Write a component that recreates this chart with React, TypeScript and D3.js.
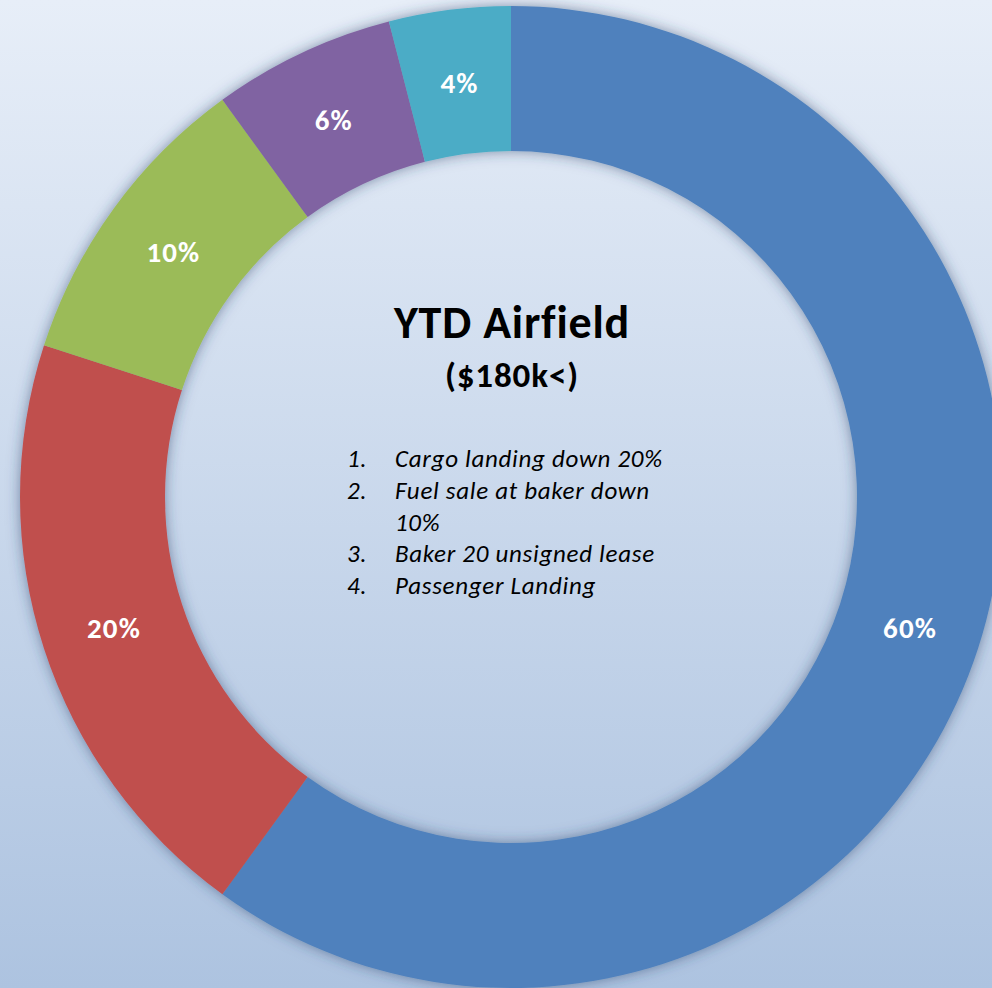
import React from "react";
import * as d3 from "d3";

const categories = ["Cargo Landing", "Passenger Landing", "Fuel Sales", "Leases", "Other"];
const values = [60, 20, 10, 6, 4];
const colors = ["#4F81BD", "#C0504D", "#9BBB59", "#8064A2", "#4BACC6"];
const titleLines = ["YTD Airfield", "($180k<)"];
const notes = [
  { num: "1.", lines: ["Cargo landing down 20%"] },
  { num: "2.", lines: ["Fuel sale at baker down", "10%"] },
  { num: "3.", lines: ["Baker 20 unsigned lease"] },
  { num: "4.", lines: ["Passenger Landing"] },
];

const W = 992;
const H = 988;
const CX = 511;
const CY = 497;
const R_OUT = 491;
const R_IN = 346;
const FONT = "Carlito, Calibri, Lato, 'Open Sans', sans-serif";

export default function App() {
  const pie = d3.pie<number>().sort(null).value((d) => d)(values);
  const arc = d3.arc<d3.PieArcDatum<number>>().innerRadius(R_IN).outerRadius(R_OUT);
  const total = d3.sum(values);

  let lineIdx = 0;
  const listRows: { num?: string; text: string; i: number }[] = [];
  notes.forEach((n) => {
    n.lines.forEach((t, j) => {
      listRows.push({ num: j === 0 ? n.num : undefined, text: t, i: lineIdx++ });
    });
  });

  return (
    <svg
      width={W}
      height={H}
      style={{ position: "absolute", left: 0, top: 0, display: "block" }}
    >
      <defs>
        <linearGradient id="bg" x1="0" y1="0" x2="0" y2="1">
          <stop offset="0" stopColor="#e7eef8" />
          <stop offset="1" stopColor="#adc3e0" />
        </linearGradient>
        <filter id="shadow" x="-10%" y="-10%" width="120%" height="120%">
          <feDropShadow dx="0" dy="0" stdDeviation="7" floodColor="#2b3f66" floodOpacity="0.55" />
        </filter>
      </defs>
      <rect x={0} y={0} width={W} height={H} fill="url(#bg)" />
      <g transform={`translate(${CX},${CY})`}>
        <g filter="url(#shadow)">
          {pie.map((d, i) => (
            <path key={categories[i]} d={arc(d) || ""} fill={colors[i]} />
          ))}
        </g>
        {pie.map((d, i) => {
          const [x, y] = arc.centroid(d);
          return (
            <text
              key={"l" + i}
              x={x + 1}
              y={y + 1}
              dy="0.36em"
              textAnchor="middle"
              fill="#ffffff"
              fontFamily={FONT}
              fontWeight="bold"
              fontSize={29}
              letterSpacing={1.1}
            >
              {`${Math.round((d.value / total) * 100)}%`}
            </text>
          );
        })}
      </g>
      <text
        x={CX + 1}
        y={338}
        textAnchor="middle"
        fontFamily={FONT}
        fontWeight="bold"
        fontSize={46}
        letterSpacing={0.8}
        fill="#000"
      >
        {titleLines[0]}
      </text>
      <text
        x={CX + 1}
        y={387}
        textAnchor="middle"
        fontFamily={FONT}
        fontWeight="bold"
        fontSize={35}
        letterSpacing={0.9}
        fill="#000"
      >
        {titleLines[1]}
      </text>
      {listRows.map((r) => (
        <g key={"n" + r.i} fontFamily={FONT} fontStyle="italic" fontSize={25} fill="#000" letterSpacing={0.7}>
          {r.num && (
            <text x={347} y={467 + r.i * 31.8}>
              {r.num}
            </text>
          )}
          <text x={395} y={467 + r.i * 31.8}>
            {r.text}
          </text>
        </g>
      ))}
    </svg>
  );
}
